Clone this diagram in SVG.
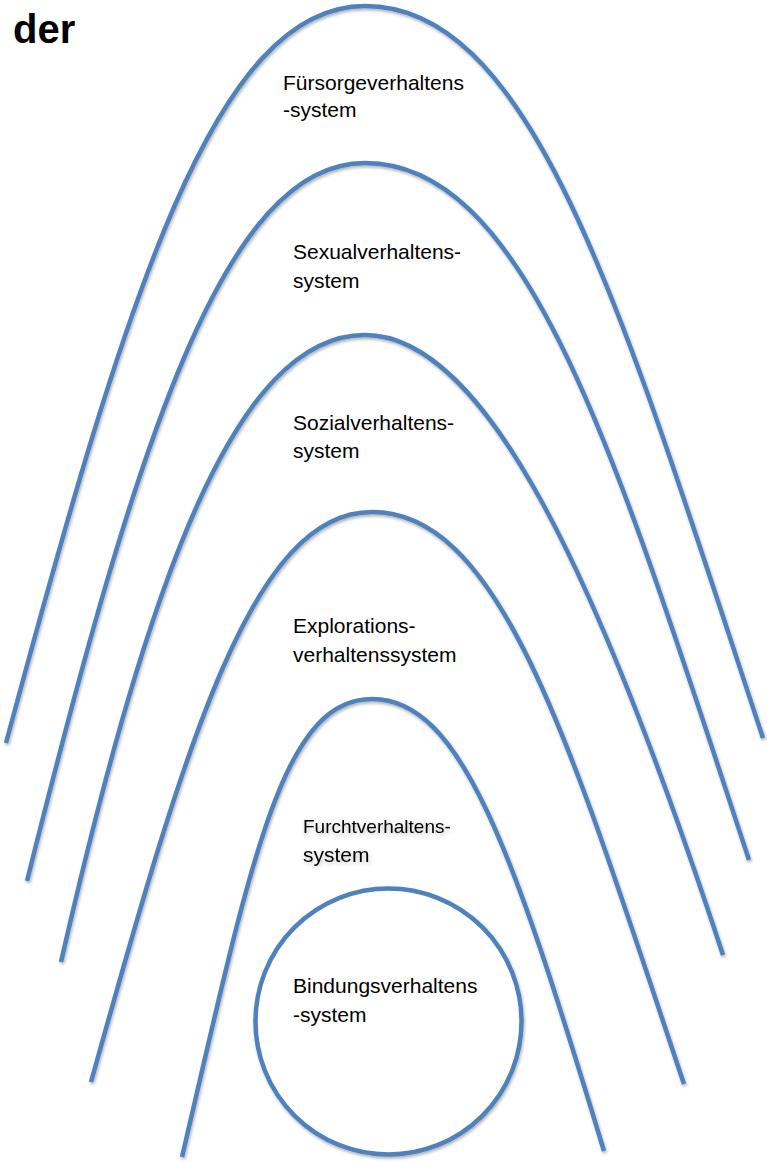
<svg xmlns="http://www.w3.org/2000/svg" width="767" height="1162" viewBox="0 0 767 1162">
  <defs>
    <filter id="sh" x="-10%" y="-10%" width="120%" height="120%">
      <feDropShadow dx="1" dy="2" stdDeviation="1.5" flood-color="#000" flood-opacity="0.3"/>
    </filter>
    <filter id="tglow" x="-10%" y="-30%" width="120%" height="160%">
      <feDropShadow dx="1" dy="2" stdDeviation="2" flood-color="#000" flood-opacity="0.25"/>
    </filter>
  </defs>
  <style>
    .arc { fill: none; stroke: #4F81BD; stroke-width: 4.5; stroke-linecap: butt; filter: url(#sh); }
    .circ { fill: #FFFFFF; stroke: #4F81BD; stroke-width: 4.5; filter: url(#sh); }
    .lbl { font-family: "Liberation Sans", Arial, sans-serif; font-size: 21px; fill: #000; }
    .small { font-size: 19px; }
    .title { font-family: "Liberation Sans", Arial, sans-serif; font-size: 40px; font-weight: bold; fill: #000; }
  </style>
  <rect width="767" height="1162" fill="#FFFFFF"/>
  <text class="title" x="13" y="43">der</text>

  <g id="fuersorge">
    <path class="arc" d="M6,743 C127,293 215,6 365,6 C535,6 624,318 763,738"/>
    <text class="lbl" x="283" y="90">Fürsorgeverhaltens</text>
    <text class="lbl" x="283" y="117">-system</text>
  </g>

  <g id="sexual">
    <path class="arc" d="M27,881 C137,441 224,163 365,163 C529,163 617,460 749,860"/>
    <text class="lbl" x="293" y="259">Sexualverhaltens-</text>
    <text class="lbl" x="293" y="288">system</text>
  </g>

  <g id="sozial">
    <path class="arc" d="M61,962 C148,582 235,335 365,335 C485,335 598,575 723,955"/>
    <text class="lbl" x="293" y="430">Sozialverhaltens-</text>
    <text class="lbl" x="293" y="458">system</text>
  </g>

  <g id="exploration">
    <path class="arc" d="M91,1082 C186,742 252,512 372,512 C502,512 570,744 684,1084"/>
    <text class="lbl" x="293" y="633">Explorations-</text>
    <text class="lbl" x="293" y="662">verhaltenssystem</text>
  </g>

  <g id="furcht">
    <path class="arc" d="M182,1157 C252,857 282,699 372,699 C462,699 513,851 604,1151"/>
    <g filter="url(#tglow)">
      <text class="lbl small" x="303" y="833">Furchtverhaltens-</text>
      <text class="lbl" x="303" y="862">system</text>
    </g>
  </g>

  <g id="bindung">
    <circle class="circ" cx="388.5" cy="1021.5" r="133"/>
    <text class="lbl" x="293" y="993">Bindungsverhaltens</text>
    <text class="lbl" x="293" y="1022">-system</text>
  </g>

  <g id="connectors"/>
</svg>
